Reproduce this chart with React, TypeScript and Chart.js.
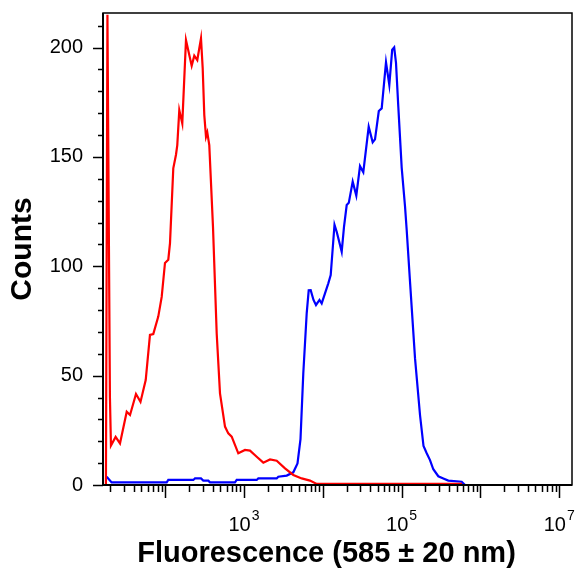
import React, { useEffect, useRef } from "react";
import { Chart, registerables } from "chart.js";

Chart.register(...registerables);

// ---- data ----
const redX = [17.7, 18.5, 19.9, 20.5, 23.5, 26.7, 32.5, 35.8, 42.6, 48.6, 56.6, 64.1, 70.6, 81.7, 90.3, 99.4, 109.5, 115.1, 126.7, 137.1, 142.4, 151.0, 164.8, 183.6, 216.9, 234.0, 255.5, 284.7, 299.2, 313.5, 329.5, 342.2, 362.7, 404.2, 450.4, 496.0, 574.1, 632.1, 698.1, 846.6, 1030, 1192, 1450, 1758, 2138, 2600, 3314, 4224, 5399, 6881, 8367, 584000];
const redY = [0, 215, 40, 18, 22, 19, 33.5, 32, 41.6, 38, 48, 68.6, 69, 77, 86, 101.5, 103, 110.6, 144.8, 151, 155.4, 171.4, 165.3, 203.4, 191.7, 196.3, 194.3, 204.2, 190.5, 169.1, 159.2, 161.2, 155.4, 118, 69.3, 41.9, 26.7, 23.6, 22.1, 14.5, 16, 15.7, 12.9, 10.2, 11.7, 11.1, 7.6, 4.6, 3.0, 2.0, 0.5, 0.5];

const blueX = [18.1, 20.9, 104.5, 109.5, 227.3, 238.9, 284.7, 304.5, 352.4, 370.2, 768.7, 808.0, 1450, 1519, 2600, 2725, 3483, 4224, 4775, 5212, 5655, 6248, 6625, 7022, 7621, 8198, 9081, 9683, 10665, 11744, 12600, 14078, 15010, 17373, 18578, 20104, 21376, 23956, 26618, 29659, 32659, 38237, 42979, 45959, 51359, 55913, 63387, 69823, 75970, 80546, 84898, 90820, 100300, 110440, 116040, 127850, 147950, 171220, 189680, 208230, 229280, 252500, 292200, 338200, 391400, 579000, 637700, 14530000];
const blueY = [3.8, 1.2, 1.2, 2.3, 2.3, 3, 3, 2, 2, 1.2, 1.2, 2.3, 2.3, 3, 3, 3.8, 4.3, 5.8, 9.9, 21, 51, 78.5, 89, 89.1, 84.6, 82.3, 84.6, 83, 87.6, 92.2, 96, 119, 115.8, 106.7, 118, 128, 129, 138.7, 132.3, 145.8, 143, 163.8, 156.7, 158, 171, 172.2, 193.3, 182.9, 199, 200.1, 193, 173, 145, 127.5, 116.6, 93, 58, 32, 17.8, 14.5, 11.4, 7.2, 4, 3, 2, 1.5, 0, 0];

// axis ranges and ticks
const xMin = 16.25;
const xMax = 14530000;
const yMin = 0;
const yMax = 215.8;
const xDecades = [10, 100, 1000, 10000, 100000, 1000000, 10000000];
const xMinorMultipliers = [2, 3, 4, 5, 6, 7, 8, 9];
const xLabelValues = [1000, 100000, 10000000];
const xLabelBase = ["10", "10", "10"];
const xLabelExp = ["3", "5", "7"];
const yMinorTicks = [10, 20, 30, 40, 60, 70, 80, 90, 110, 120, 130, 140, 160, 170, 180, 190, 210];
const yMajorTicks = [0, 50, 100, 150, 200];

const xTitle = "Fluorescence (585 \u00b1 20 nm)";
const yTitle = "Counts";

const FONT = '"Liberation Sans", Arial, sans-serif';

const decorPlugin = {
  id: "decor",
  afterDraw(chart: any) {
    const { ctx, chartArea: a, scales } = chart;
    const x = scales.x;
    const y = scales.y;
    ctx.save();
    ctx.strokeStyle = "#000";
    ctx.fillStyle = "#000";
    // frame
    ctx.lineWidth = 1.5;
    ctx.strokeRect(a.left, a.top, a.right - a.left, a.bottom - a.top);
    ctx.lineWidth = 2;
    ctx.beginPath();
    ctx.moveTo(a.left, a.top);
    ctx.lineTo(a.left, a.bottom);
    ctx.lineTo(a.right, a.bottom);
    ctx.stroke();

    // y ticks
    ctx.lineWidth = 1.5;
    ctx.beginPath();
    for (const v of yMajorTicks) {
      const py = Math.round(y.getPixelForValue(v)) + 0.5;
      ctx.moveTo(a.left - 10, py);
      ctx.lineTo(a.left, py);
    }
    for (const v of yMinorTicks) {
      const py = Math.round(y.getPixelForValue(v)) + 0.5;
      ctx.moveTo(a.left - 5, py);
      ctx.lineTo(a.left, py);
    }
    ctx.stroke();

    // x ticks
    ctx.beginPath();
    for (const d of xDecades) {
      if (d >= xMin && d <= xMax) {
        const px = Math.round(x.getPixelForValue(d)) + 0.5;
        ctx.moveTo(px, a.bottom);
        ctx.lineTo(px, a.bottom + 13);
      }
      for (const m of xMinorMultipliers) {
        const v = d * m;
        if (v >= xMin && v <= xMax) {
          const px = Math.round(x.getPixelForValue(v)) + 0.5;
          ctx.moveTo(px, a.bottom);
          ctx.lineTo(px, a.bottom + 7);
        }
      }
    }
    ctx.stroke();

    // x tick labels with superscript
    const baseFont = `20px ${FONT}`;
    const expFont = `14px ${FONT}`;
    ctx.textBaseline = "alphabetic";
    ctx.textAlign = "left";
    xLabelValues.forEach((v, i) => {
      const px = x.getPixelForValue(v);
      ctx.font = baseFont;
      const wb = ctx.measureText(xLabelBase[i]).width;
      ctx.font = expFont;
      const we = ctx.measureText(xLabelExp[i]).width;
      const start = px - (wb + 1 + we) / 2;
      ctx.font = baseFont;
      ctx.fillText(xLabelBase[i], start, 531);
      ctx.font = expFont;
      ctx.fillText(xLabelExp[i], start + wb + 1, 520);
    });

    // x title
    ctx.font = `bold 29px ${FONT}`;
    ctx.textAlign = "center";
    ctx.fillText(xTitle, 326.5, 562);
    ctx.restore();
  },
};

export default function App() {
  const ref = useRef<HTMLCanvasElement | null>(null);
  useEffect(() => {
    if (!ref.current) return;
    const red = redX.map((v, i) => ({ x: v, y: redY[i] }));
    const blue = blueX.map((v, i) => ({ x: v, y: blueY[i] }));
    const chart = new Chart(ref.current, {
      type: "line",
      data: {
        datasets: [
          { label: "Red", data: red, borderColor: "#ff0000", backgroundColor: "#ff0000", borderWidth: 2.2, pointRadius: 0, tension: 0, fill: false },
          { label: "Blue", data: blue, borderColor: "#0000ff", backgroundColor: "#0000ff", borderWidth: 2.2, pointRadius: 0, tension: 0, fill: false },
        ],
      },
      options: {
        animation: false,
        responsive: false,
        devicePixelRatio: 1,
        layout: { padding: { left: 0, top: 13, right: 4, bottom: 0 }, autoPadding: false },
        plugins: { legend: { display: false }, tooltip: { enabled: false } },
        scales: {
          x: {
            type: "logarithmic",
            min: xMin,
            max: xMax,
            ticks: { display: false },
            grid: { display: false, drawTicks: false },
            border: { display: false },
            title: { display: false },
            afterFit(s: any) { s.height = 85; s.paddingLeft = 0; s.paddingRight = 0; },
          },
          y: {
            type: "linear",
            min: yMin,
            max: yMax,
            ticks: { stepSize: 50, includeBounds: false, color: "#000", padding: 20, font: { family: FONT, size: 20 } },
            grid: { display: false, drawTicks: false },
            border: { display: false },
            title: { display: true, text: yTitle, color: "#000", font: { family: FONT, size: 30, weight: "bold", lineHeight: 1.2 }, padding: { top: 5, bottom: 0 } },
            afterFit(s: any) { s.width = 103; s.paddingTop = 0; s.paddingBottom = 0; },
          },
        },
      },
      plugins: [decorPlugin],
    });
    return () => chart.destroy();
  }, []);
  return (
    <div style={{ position: "absolute", left: 0, top: 0, width: 576, height: 570, background: "#fff" }}>
      <canvas ref={ref} width={576} height={570} style={{ width: 576, height: 570, display: "block" }} />
    </div>
  );
}
